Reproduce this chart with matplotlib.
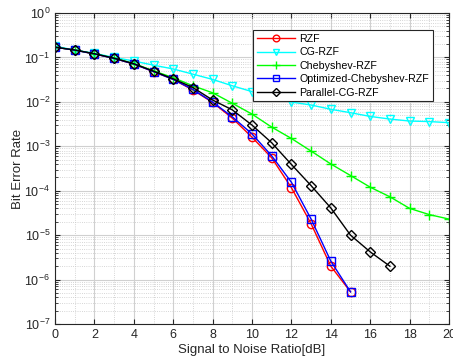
import numpy as np
import matplotlib.pyplot as plt
from matplotlib.ticker import LogLocator, NullFormatter

plt.rcParams['font.family'] = ['Liberation Sans', 'DejaVu Sans']

# SNR 轴
snr_a = list(range(0, 16))
snr_b = list(range(0, 21))
snr_c = list(range(0, 18))

ber_rzf = [0.17, 0.146, 0.12, 0.095, 0.071, 0.048, 0.032, 0.0185, 0.0097, 0.0043,
           0.0016, 5.5e-4, 1.17e-4, 1.8e-5, 2.0e-6, 5.3e-7]
ber_cg = [0.18, 0.146, 0.124, 0.1, 0.083, 0.067, 0.055, 0.042, 0.032, 0.023,
          0.017, 0.013, 0.0099, 0.0085, 0.0068, 0.0057, 0.0047, 0.0041, 0.0037,
          0.0036, 0.0034]
ber_cheb = [0.17, 0.147, 0.121, 0.097, 0.073, 0.05, 0.035, 0.023, 0.016, 0.0093,
            0.0053, 0.0027, 0.0015, 7.8e-4, 4.0e-4, 2.2e-4, 1.2e-4, 7.3e-5, 4.0e-5,
            2.9e-5, 2.3e-5]
ber_opt = [0.17, 0.146, 0.12, 0.095, 0.071, 0.048, 0.032, 0.019, 0.0099, 0.0046,
           0.0019, 6.1e-4, 1.55e-4, 2.3e-5, 2.6e-6, 5.3e-7]
ber_par = [0.17, 0.147, 0.121, 0.096, 0.072, 0.049, 0.033, 0.021, 0.011, 0.0066,
           0.003, 0.0012, 3.9e-4, 1.3e-4, 4.1e-5, 1.0e-5, 4.2e-6, 2.0e-6]

fig = plt.figure(figsize=(4.53, 3.62), dpi=100)
ax = fig.add_axes([55 / 453, 1 - 324 / 362, 394 / 453, 311 / 362])

lw = 1.0
ms = 6
ax.semilogy(snr_a, ber_rzf, '-o', color=(1, 0, 0), lw=lw, ms=ms, mfc='none', label='RZF')
ax.semilogy(snr_b, ber_cg, '-v', color=(0, 1, 1), lw=lw, ms=ms, mfc='none', label='CG-RZF')
ax.semilogy(snr_b, ber_cheb, '-+', color=(0, 1, 0), lw=lw, ms=7, label='Chebyshev-RZF')
ax.semilogy(snr_a, ber_opt, '-s', color=(0, 0, 1), lw=lw, ms=ms, mfc='none', label='Optimized-Chebyshev-RZF')
ax.semilogy(snr_c, ber_par, '-D', color='k', lw=lw, ms=5, mfc='none', label='Parallel-CG-RZF')

ax.set_xlim(0, 20)
ax.set_ylim(1e-7, 1)
ax.set_xticks(range(0, 21, 2))
ax.yaxis.set_major_locator(LogLocator(base=10, numticks=10))
ax.yaxis.set_minor_locator(LogLocator(base=10, subs=np.arange(2, 10), numticks=100))
ax.yaxis.set_minor_formatter(NullFormatter())
ax.set_xticks(np.arange(0, 20.1, 1), minor=True)

ax.grid(True, which='major', color='#d0d0d0', lw=0.8)
ax.grid(True, which='minor', color='#c8c8c8', lw=0.6, ls=':')
ax.set_axisbelow(True)
ax.tick_params(which='both', direction='in', top=True, right=True, labelsize=9, colors='#262626')
ax.tick_params(which='minor', length=2)
ax.tick_params(axis='x', which='minor', length=0)
for s in ax.spines.values():
    s.set_color('#262626')
    s.set_linewidth(0.8)

ax.set_xlabel('Signal to Noise Ratio[dB]', fontsize=9.5, color='#262626', labelpad=2)
ax.set_ylabel('Bit Error Rate', fontsize=9.5, color='#262626', labelpad=0)

leg = ax.legend(loc='upper right', bbox_to_anchor=(0.973, 0.962), fontsize=7.7, fancybox=False,
                edgecolor='#262626', framealpha=1, handlelength=3.6, borderpad=0.35,
                labelspacing=0.32, handletextpad=0.4, markerscale=0.8)
leg.get_frame().set_linewidth(0.8)

fig.savefig('out.png', dpi=100)
